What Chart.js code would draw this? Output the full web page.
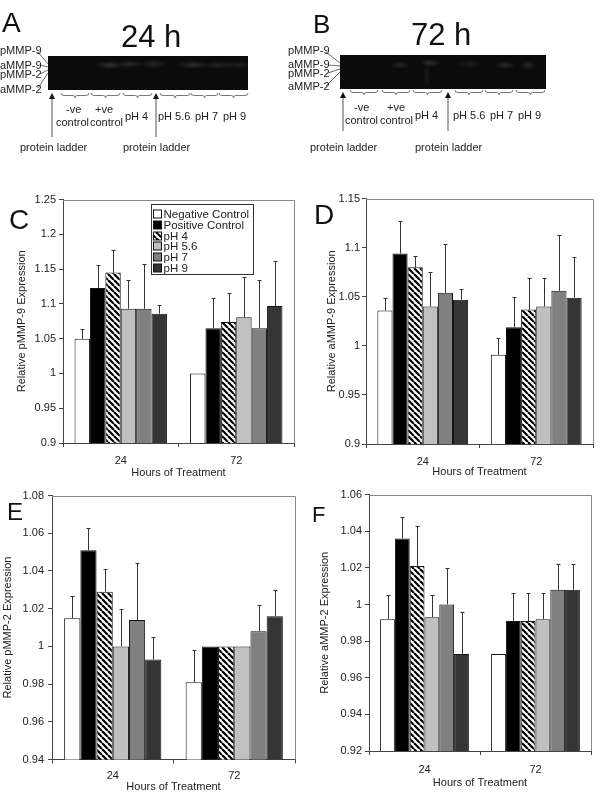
<!DOCTYPE html>
<html>
<head>
<meta charset="utf-8">
<script src="https://cdn.jsdelivr.net/npm/chart.js@4.4.0/dist/chart.umd.min.js"></script>
<style>
  body { margin: 0; background: #fff; }
  #fig { position: relative; width: 600px; height: 800px; overflow: hidden; font-family: 'Liberation Sans', Arial, sans-serif; color: #222; }
  canvas { position: absolute; }
  .t { position: absolute; white-space: nowrap; line-height: 1; }
  .gel { position: absolute; background: #0b0b0b; }
  svg { position: absolute; left: 0; top: 0; }
</style>
</head>
<body>
<div id="fig">
  <canvas id="chartC" width="300" height="290" style="left:0;top:190px"></canvas>
  <canvas id="chartD" width="300" height="289" style="left:300px;top:190px"></canvas>
  <canvas id="chartE" width="300" height="309" style="left:0;top:485px"></canvas>
  <canvas id="chartF" width="300" height="305" style="left:300px;top:485px"></canvas>

  <div class="gel" style="left:48px;top:56px;width:200px;height:34px;
    background:
      radial-gradient(14px 4px at 62px 9px, rgba(80,80,80,.55), transparent),
      radial-gradient(14px 4px at 82px 8px, rgba(70,70,70,.5), transparent),
      radial-gradient(14px 4px at 105px 8px, rgba(70,70,70,.45), transparent),
      radial-gradient(16px 4px at 145px 9px, rgba(80,80,80,.5), transparent),
      radial-gradient(16px 4px at 170px 9px, rgba(70,70,70,.45), transparent),
      radial-gradient(14px 4px at 190px 9px, rgba(60,60,60,.4), transparent),
      #0b0b0b;"></div>
  <div class="gel" style="left:340px;top:55px;width:206px;height:34px;
    background:
      radial-gradient(10px 4px at 60px 10px, rgba(70,70,70,.45), transparent),
      radial-gradient(10px 4px at 90px 8px, rgba(80,80,80,.5), transparent),
      radial-gradient(12px 4px at 130px 9px, rgba(60,60,60,.4), transparent),
      radial-gradient(10px 4px at 165px 10px, rgba(80,80,80,.5), transparent),
      radial-gradient(8px 5px at 188px 10px, rgba(70,70,70,.45), transparent),
      radial-gradient(4px 12px at 87px 20px, rgba(40,40,40,.5), transparent),
      #0b0b0b;"></div>

  <svg width="600" height="800" id="marks"></svg>
  <div id="texts"></div>
</div>

<script>
// categories and series
const hours = ['24', '72'];
const seriesNames = ['Negative Control', 'Positive Control', 'pH 4', 'pH 5.6', 'pH 7', 'pH 9'];

// values per series: [24 h, 72 h]; errors are the upward error bar lengths
const pMMP9 = [[1.050, 1.000], [1.123, 1.065], [1.145, 1.074], [1.093, 1.081], [1.093, 1.065], [1.086, 1.097]];
const pMMP9Err = [[0.014, 0], [0.033, 0.043], [0.033, 0.042], [0.042, 0.057], [0.064, 0.070], [0.012, 0.064]];
const aMMP9 = [[1.036, 0.991], [1.094, 1.019], [1.080, 1.037], [1.040, 1.040], [1.054, 1.056], [1.047, 1.049]];
const aMMP9Err = [[0.013, 0.017], [0.033, 0.031], [0.012, 0.032], [0.035, 0.029], [0.050, 0.057], [0.011, 0.042]];
const pMMP2 = [[1.015, 0.981], [1.051, 1.000], [1.029, 1.000], [1.000, 1.000], [1.014, 1.008], [0.993, 1.016]];
const pMMP2Err = [[0.012, 0.017], [0.012, 0], [0.012, 0], [0.020, 0], [0.030, 0.014], [0.012, 0.014]];
const aMMP2 = [[0.992, 0.973], [1.036, 0.991], [1.021, 0.991], [0.993, 0.992], [1.000, 1.008], [0.973, 1.008]];
const aMMP2Err = [[0.013, 0], [0.012, 0.015], [0.022, 0.015], [0.012, 0.014], [0.020, 0.014], [0.023, 0.014]];

// y tick values
const ticksC = [0.9, 0.95, 1, 1.05, 1.1, 1.15, 1.2, 1.25];
const ticksD = [0.9, 0.95, 1, 1.05, 1.1, 1.15];
const ticksE = [0.94, 0.96, 0.98, 1, 1.02, 1.04, 1.06, 1.08];
const ticksF = [0.92, 0.94, 0.96, 0.98, 1, 1.02, 1.04, 1.06];

// hatch for pH 4
const pc = document.createElement('canvas');
pc.width = 6; pc.height = 6;
const pg = pc.getContext('2d');
pg.fillStyle = '#fff';
pg.fillRect(0, 0, 6, 6);
pg.strokeStyle = '#000';
pg.lineWidth = 2.2;
for (const o of [-6, 0, 6]) {
  pg.beginPath(); pg.moveTo(o, 0); pg.lineTo(o + 6, 6); pg.stroke();
}
const hatch = pg.createPattern(pc, 'repeat');
const fills = ['#ffffff', '#000000', hatch, '#c0c0c0', '#808080', '#353535'];

const FONT = "'Liberation Sans', Arial, sans-serif";
Chart.defaults.font.family = FONT;

// grey frame on top / right of the plot
const frame = {
  id: 'frame',
  beforeDatasetsDraw(chart) {
    const { ctx, chartArea: a } = chart;
    ctx.save();
    ctx.strokeStyle = '#888';
    ctx.lineWidth = 1;
    ctx.beginPath();
    ctx.moveTo(a.left, Math.round(a.top) + 0.5);
    ctx.lineTo(Math.round(a.right) + 0.5, Math.round(a.top) + 0.5);
    ctx.lineTo(Math.round(a.right) + 0.5, a.bottom);
    ctx.stroke();
    ctx.restore();
  }
};

// upward error bars
const errorBars = {
  id: 'errorBars',
  afterDatasetsDraw(chart) {
    const { ctx } = chart;
    const y = chart.scales.y;
    ctx.save();
    ctx.strokeStyle = '#333';
    ctx.lineWidth = 1;
    chart.data.datasets.forEach((ds, i) => {
      chart.getDatasetMeta(i).data.forEach((bar, j) => {
        const e = ds.errors[j];
        if (!e) return;
        const x = Math.round(bar.x) + 0.5;
        const top = Math.round(y.getPixelForValue(ds.data[j] + e)) + 0.5;
        ctx.beginPath();
        ctx.moveTo(x, bar.y);
        ctx.lineTo(x, top);
        ctx.moveTo(x - 2, top);
        ctx.lineTo(x + 2, top);
        ctx.stroke();
      });
    });
    ctx.restore();
  }
};

// boxed legend inside the plot (panel C)
const boxLegend = {
  id: 'boxLegend',
  afterDatasetsDraw(chart, args, opts) {
    if (!opts.show) return;
    const { ctx, chartArea } = chart;
    const x0 = Math.round(chartArea.left + opts.dx) + 0.5;
    const y0 = Math.round(chartArea.top + opts.dy) + 0.5;
    ctx.save();
    ctx.fillStyle = '#fff';
    ctx.fillRect(x0, y0, opts.w, opts.h);
    ctx.strokeStyle = '#333';
    ctx.lineWidth = 1;
    ctx.strokeRect(x0, y0, opts.w, opts.h);
    ctx.font = '11.5px ' + FONT;
    ctx.textBaseline = 'middle';
    chart.data.datasets.forEach((ds, i) => {
      const cy = Math.round(y0 + 9.5 + i * 10.8);
      ctx.fillStyle = ds.backgroundColor;
      ctx.fillRect(x0 + 2, cy - 4, 8, 8);
      ctx.strokeStyle = '#111';
      ctx.strokeRect(x0 + 2, cy - 4, 8, 8);
      ctx.fillStyle = '#222';
      ctx.fillText(ds.label, x0 + 12, cy + 0.5);
    });
    ctx.restore();
  }
};

function makeChart(id, p) {
  const ctx = document.getElementById(id).getContext('2d');
  return new Chart(ctx, {
    type: 'bar',
    data: {
      labels: hours,
      datasets: seriesNames.map((name, i) => ({
        label: name,
        data: p.values[i],
        errors: p.errs[i],
        backgroundColor: fills[i],
        borderColor: '#111',
        borderWidth: 1,
        barPercentage: 1,
        categoryPercentage: 0.8
      }))
    },
    options: {
      responsive: false,
      animation: false,
      layout: { padding: p.pad },
      plugins: {
        legend: { display: false },
        tooltip: { enabled: false },
        boxLegend: p.legend || { show: false }
      },
      scales: {
        x: {
          grid: { display: true, drawOnChartArea: false, offset: true, tickLength: 4, color: '#444' },
          border: { color: '#444' },
          ticks: { padding: p.xtickPad, color: '#222', font: { size: 11 } },
          title: { display: true, text: 'Hours of Treatment', color: '#222', font: { size: 11 }, padding: 0 },
          afterFit: s => { s.height = p.xh; }
        },
        y: {
          min: p.ticks[0],
          max: p.ticks[p.ticks.length - 1],
          afterBuildTicks: s => { s.ticks = p.ticks.map(v => ({ value: v })); },
          grid: { display: true, drawOnChartArea: false, tickLength: 4, color: '#444' },
          border: { color: '#444' },
          ticks: { padding: p.ytickPad, color: '#222', font: { size: 11 }, callback: v => String(v) },
          title: { display: true, text: p.title, color: '#222', font: { size: 11 }, padding: { top: p.ytitlePad, bottom: 0 } },
          afterFit: s => { s.width = p.yw; }
        }
      }
    },
    plugins: [frame, errorBars, boxLegend]
  });
}

makeChart('chartC', {
  values: pMMP9, errs: pMMP9Err, ticks: ticksC, title: 'Relative pMMP-9 Expression',
  pad: { top: 7.5, right: 6, left: 0, bottom: 0 }, yw: 63, xh: 37,
  ytitlePad: 15, ytickPad: 3, xtickPad: 7,
  legend: { show: true, dx: 88, dy: 4.5, w: 102, h: 70 }
});
makeChart('chartD', {
  values: aMMP9, errs: aMMP9Err, ticks: ticksD, title: 'Relative aMMP-9 Expression',
  pad: { top: 6.7, right: 7, left: 0, bottom: 0 }, yw: 66, xh: 35,
  ytitlePad: 25, ytickPad: 2, xtickPad: 7
});
makeChart('chartE', {
  values: pMMP2, errs: pMMP2Err, ticks: ticksE, title: 'Relative pMMP-2 Expression',
  pad: { top: 5.7, right: 5, left: 0, bottom: 0 }, yw: 52, xh: 34.5,
  ytitlePad: 1, ytickPad: 4, xtickPad: 6
});
makeChart('chartF', {
  values: aMMP2, errs: aMMP2Err, ticks: ticksF, title: 'Relative aMMP-2 Expression',
  pad: { top: 7, right: 9, left: 0, bottom: 0 }, yw: 69, xh: 39,
  ytitlePad: 18, ytickPad: 3, xtickPad: 8
});

// gel panel text: [text, left, baseline, size]
const labels = [
  ['A', 2, 33, 28], ['24 h', 121, 47, 31], ['B', 313, 33, 26], ['72 h', 411, 45, 31],
  ['C', 9, 230, 28], ['D', 314, 225, 28], ['E', 7, 520, 24], ['F', 312, 523, 22],
  ['pMMP-9', 0, 54, 11], ['aMMP-9', 0, 69, 11], ['pMMP-2', 0, 78, 11], ['aMMP-2', 0, 93, 11],
  ['pMMP-9', 288, 54, 11], ['aMMP-9', 288, 68, 11], ['pMMP-2', 288, 77, 11], ['aMMP-2', 288, 90, 11],
  ['-ve', 66, 113, 11], ['control', 56, 126, 11], ['+ve', 95, 113, 11], ['control', 90, 126, 11],
  ['pH 4', 125, 120, 11], ['pH 5.6', 158, 120, 11], ['pH 7', 195, 120, 11], ['pH 9', 223, 120, 11],
  ['-ve', 354, 111, 11], ['control', 345, 124, 11], ['+ve', 387, 111, 11], ['control', 380, 124, 11],
  ['pH 4', 415, 119, 11], ['pH 5.6', 453, 119, 11], ['pH 7', 490, 119, 11], ['pH 9', 518, 119, 11],
  ['protein ladder', 20, 151, 11], ['protein ladder', 123, 151, 11],
  ['protein ladder', 310, 151, 11], ['protein ladder', 415, 151, 11]
];
const box = document.getElementById('texts');
labels.forEach(([s, x, base, size]) => {
  const d = document.createElement('div');
  d.className = 't';
  d.textContent = s;
  d.style.left = x + 'px';
  d.style.top = (base - 0.8465 * size) + 'px';
  d.style.fontSize = size + 'px';
  if (size > 20) d.style.color = '#111';
  box.appendChild(d);
});

// leader lines, braces and arrows around the gels
const svg = document.getElementById('marks');
let marks = '';
const leaders = [
  [38, 52, 48, 64], [40, 65, 48, 67], [40, 74, 48, 70], [38, 88, 48, 73],
  [326, 52, 340, 63], [328, 65, 340, 66], [328, 73, 340, 69], [326, 86, 340, 72]
];
leaders.forEach(([x1, y1, x2, y2]) => {
  marks += `<line x1="${x1}" y1="${y1}" x2="${x2}" y2="${y2}" stroke="#444" stroke-width="0.8"/>`;
});
const braces = [
  [61, 89, 93], [91, 120, 93], [123, 152, 93], [160, 190, 93], [191, 218, 93], [219, 248, 93],
  [350, 378, 90], [382, 410, 90], [413, 442, 90], [455, 483, 90], [485, 513, 90], [516, 545, 90]
];
braces.forEach(([a, b, y]) => {
  const m = (a + b) / 2;
  marks += `<path d="M${a} ${y} Q${a} ${y + 2.5} ${a + 3} ${y + 2.5} L${m - 2} ${y + 2.5} Q${m} ${y + 2.5} ${m} ${y + 5} Q${m} ${y + 2.5} ${m + 2} ${y + 2.5} L${b - 3} ${y + 2.5} Q${b} ${y + 2.5} ${b} ${y}" fill="none" stroke="#777" stroke-width="1"/>`;
});
const arrows = [[52, 93, 137], [156, 93, 137], [343, 92, 131], [448, 92, 131]];
arrows.forEach(([x, tip, end]) => {
  marks += `<line x1="${x}" y1="${tip + 4}" x2="${x}" y2="${end}" stroke="#555" stroke-width="1"/>`;
  marks += `<polygon points="${x},${tip} ${x - 3},${tip + 6} ${x + 3},${tip + 6}" fill="#111"/>`;
});
svg.innerHTML = marks;
</script>
</body>
</html>
